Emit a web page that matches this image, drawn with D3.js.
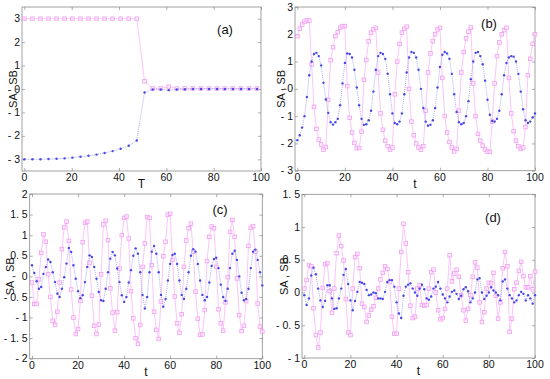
<!DOCTYPE html>
<html><head><meta charset="utf-8">
<script src="https://cdn.jsdelivr.net/npm/d3@7"></script>
<style>body{margin:0;background:#fff}svg{display:block}text{font-family:"Liberation Sans",Arial,sans-serif}</style>
</head><body><svg id="c" width="550" height="379"></svg>
<script>
// ---------- data ----------
const xTicks = [0, 20, 40, 60, 80, 100];
const xTickLabels = ["0", "20", "40", "60", "80", "100"];

const tA = [0,3.4,6.8,10.2,13.6,17,20.3,23.7,27.1,30.5,33.9,37.3,40.7,44.1,47.5,50.8,54.2,57.6,61,64.4,67.8,71.2,74.6,78,81.4,84.7,88.1,91.5,94.9,98.3];
const sbA = [3,3,3,3,3,3,3,3,3,3,3,3,3,3,3,0.33,0.02,0.02,0.1,0.02,0.02,0.02,0.02,0.02,0.02,0.02,0.02,0.02,0.02,0.02];
const saA = [-3,-3,-3,-2.99,-2.98,-2.96,-2.93,-2.89,-2.85,-2.8,-2.73,-2.65,-2.55,-2.42,-2.2,-0.15,-0.02,-0.02,-0.05,-0.02,-0.01,0,0,0,0,0,0,0,0,0];

const tB = d3.range(0, 101);
const sbB = [1.93,2.2,2.36,2.46,2.52,2.5,0.9,-0.66,-1.47,-1.86,-2.04,-2.23,-2.13,-0.4,1.05,1.53,1.93,2.08,2.24,2.3,2.3,0.1,-1.06,-1.6,-1.98,-2.17,-2.17,-1.57,0.33,1.06,1.74,2.06,2.18,2.24,0.6,-0.9,-1.5,-1.9,-2.1,-2.23,-2.15,-0.2,1.0,1.65,2.06,2.2,2.28,0.0,-1.2,-1.7,-2.0,-2.15,-2.23,-2.1,-0.8,0.6,1.3,1.75,2.0,2.18,2.24,0.4,-1.0,-1.6,-1.95,-2.15,-2.29,-2.2,-0.8,0.6,1.35,1.85,2.1,2.25,0.2,-1.0,-1.65,-1.9,-2.08,-2.22,-2.3,-2.31,-1.2,0.2,1.2,1.7,2.0,2.15,2.24,0.4,-0.9,-1.55,-1.9,-2.1,-2.2,-2.15,-1.4,0.5,1.1,1.65,2.0];
const saB = [-1.88,-1.7,-1.42,-1.0,-0.3,0.5,1.0,1.28,1.32,1.2,0.86,0.22,-0.39,-0.88,-1.22,-1.31,-1.22,-1.1,-0.6,0.2,0.95,1.3,1.28,1.15,0.7,0.05,-0.6,-1.1,-1.32,-1.3,-1.15,-0.8,-0.1,0.7,1.2,1.32,1.28,1.1,0.55,-0.2,-0.9,-1.25,-1.3,-1.2,-0.9,-0.2,0.6,1.15,1.35,1.32,1.15,0.7,0.0,-0.7,-1.2,-1.35,-1.32,-1.15,-0.7,0.05,0.8,1.25,1.35,1.3,1.1,0.55,-0.2,-0.85,-1.22,-1.3,-1.25,-1.0,-0.45,0.35,1.0,1.32,1.35,1.2,0.9,0.3,-0.4,-0.95,-1.18,-1.2,-1.1,-0.8,-0.2,0.5,0.95,1.15,1.2,1.18,1.0,0.55,-0.1,-0.75,-1.15,-1.25,-1.2,-1.05,-0.9];

const tC = d3.range(0, 101);
const sbC = [-0.15,-0.67,-0.67,-0.07,0.57,1.02,0.84,0.05,-0.5,-1.08,-1.18,-0.86,-0.15,0.66,1.19,1.33,0.86,-0.32,-1.0,-1.4,-1.28,-0.59,0.83,1.3,1.33,0.33,-0.47,-1.2,-1.4,-1.17,0.05,1.26,1.35,0.88,-0.29,-0.88,-1.32,-0.87,0.19,1.0,1.42,1.45,0.92,-0.36,-1.02,-1.5,-1.64,-1.18,0.23,0.8,1.44,1.42,0.27,-0.86,-1.3,-1.52,-0.61,0.49,0.84,1.5,1.52,0.4,-0.49,-1.14,-1.37,-0.92,0.23,0.87,1.17,1.28,0.6,-0.37,-1.03,-1.42,-1.41,-0.82,0.37,0.96,1.21,1.17,0.23,-0.8,-1.14,-1.32,-0.63,-0.02,1.08,1.37,0.96,-0.05,-0.94,-1.33,-1.2,-0.6,0.74,1.18,1.22,0.6,-0.66,-1.22,-1.34];
const saC = [0.27,0.08,-0.12,-0.3,-0.26,0.06,0.23,0.41,0.35,0.1,-0.14,-0.42,-0.5,-0.3,-0.02,0.31,0.69,0.59,0.27,-0.06,-0.36,-0.53,-0.46,-0.14,0.23,0.51,0.47,0.23,-0.06,-0.38,-0.58,-0.6,-0.3,0.1,0.43,0.59,0.51,0.19,-0.14,-0.46,-0.62,-0.5,-0.15,0.15,0.5,0.68,0.55,0.1,-0.45,-0.78,-0.5,0.1,0.6,0.74,0.55,0.1,-0.45,-0.74,-0.55,-0.1,0.3,0.52,0.55,0.3,-0.1,-0.45,-0.55,-0.3,0.1,0.5,0.66,0.6,0.3,-0.1,-0.45,-0.58,-0.5,-0.15,0.25,0.42,0.45,0.2,-0.2,-0.5,-0.6,-0.3,0.2,0.55,0.62,0.4,0.0,-0.4,-0.58,-0.55,-0.3,0.2,0.6,0.65,0.4,0.1,-0.22];

const tD = d3.range(0, 101);
const sbD = [0.06,0.19,0.42,0.4,-0.24,-0.65,-0.84,-0.61,0.07,0.43,0.45,0.02,-0.31,0.06,0.6,0.87,0.71,0.49,-0.1,-0.61,-0.65,0.06,0.54,0.59,0.37,-0.17,-0.22,-0.45,-0.35,-0.26,-0.21,-0.08,0.06,0.2,0.3,0.4,0.36,0.16,-0.37,-0.63,-0.63,0.06,0.62,1.05,0.75,0.31,-0.2,-0.39,-0.37,0.06,0.11,-0.19,-0.2,-0.19,0.06,0.31,0.35,0.0,-0.27,-0.41,-0.39,-0.25,0.06,0.57,0.17,0.29,0.35,0.24,-0.04,-0.27,-0.43,-0.25,-0.04,0.24,0.46,0.38,-0.15,-0.45,-0.3,0.06,0.15,0.14,0.3,-0.05,-0.4,-0.15,0.37,0.62,0.4,-0.6,-0.4,0.05,0.15,0.33,0.47,0.25,0.08,0.08,0.25,0.05,0.32];
const saD = [-0.04,-0.19,-0.09,0.26,0.38,0.28,0.06,-0.12,-0.22,-0.13,0.11,0.11,-0.09,-0.25,-0.24,-0.09,0.06,0.27,0.36,0.13,-0.12,-0.27,-0.13,0.01,0.16,0.15,0.13,0.04,-0.04,-0.03,0.0,-0.01,-0.09,-0.09,-0.1,0.01,0.16,0.19,0.19,0.09,-0.15,-0.32,-0.39,-0.05,0.09,0.12,0.14,0.06,0.0,-0.05,0.06,0.12,0.05,-0.09,-0.11,-0.06,0.06,0.09,0.16,0.06,-0.03,-0.09,-0.15,-0.06,0.01,0.03,-0.02,-0.1,-0.05,0.05,0.08,0.02,-0.15,-0.09,0.0,0.2,0.22,0.0,-0.1,-0.05,0.0,0.08,0.03,0.0,-0.04,-0.12,0.17,0.2,0.06,-0.04,-0.09,-0.15,-0.12,-0.04,0.01,-0.02,-0.12,-0.04,-0.09,-0.17,-0.04];

const yTicksAB = [3, 2, 1, 0, -1, -2, -3];
const yLabelsAB = ["3", "2", "1", "- 0", "- 1", "- 2", "- 3"];
const yTicksC = [2, 1.5, 1, 0.5, 0, -0.5, -1, -1.5, -2];
const yLabelsC = ["2", "1. 5", "1", "0. 5", "0", "- 0. 5", "- 1", "- 1. 5", "- 2"];
const yTicksD = [1.5, 1, 0.5, 0, -0.5, -1];
const yLabelsD = ["1. 5", "1", "0. 5", "0", "- 0. 5", "- 1"];

// ---------- layout ----------
const panels = [
  {tag:"(a)", xl:"T", L:22, R:261, T:7, B:171, yd:[-3.5,3.5], yt:yTicksAB, yl:yLabelsAB, t:tA, sb:sbA, sa:saA, tagX:225, tagY:34, labX:13},
  {tag:"(b)", xl:"t", L:295, R:535, T:7, B:170.7, yd:[-3,3], yt:yTicksAB, yl:yLabelsAB, t:tB, sb:sbB, sa:saB, tagX:489, tagY:28, labX:281},
  {tag:"(c)", xl:"t", L:29.7, R:262.3, T:194, B:358.7, yd:[-2,2], yt:yTicksC, yl:yLabelsC, t:tC, sb:sbC, sa:saC, tagX:220, tagY:214, labX:10},
  {tag:"(d)", xl:"t", L:302, R:535, T:194.3, B:358, yd:[-1,1.5], yt:yTicksD, yl:yLabelsD, t:tD, sb:sbD, sa:saD, tagX:493, tagY:222, labX:284}
];

const svg = d3.select("#c");
svg.append("rect").attr("width",550).attr("height",379).attr("fill","#fff");

const frameCol = "#8a8a8a", pinkLine = "#f8bff8", pinkMark = "#f29ef2", blueLine = "#a3a3f5", blueMark = "#4848e6";

panels.forEach(p => {
  const x = d3.scaleLinear().domain([-1, 100]).range([p.L, p.R]);
  const y = d3.scaleLinear().domain(p.yd).range([p.B, p.T]);
  const g = svg.append("g");

  g.append("rect").attr("x",p.L).attr("y",p.T).attr("width",p.R-p.L).attr("height",p.B-p.T)
    .attr("fill","none").attr("stroke",frameCol).attr("stroke-width",0.8);

  const ax = (axis, tr) => g.append("g").attr("transform", tr).call(axis)
      .call(s => s.select(".domain").remove())
      .call(s => s.selectAll("line").attr("stroke", frameCol).attr("stroke-width",0.7));
  ax(d3.axisBottom(x).tickValues(xTicks).tickSize(-3).tickFormat(""), `translate(0,${p.B})`);
  ax(d3.axisTop(x).tickValues(xTicks).tickSize(-3).tickFormat(""), `translate(0,${p.T})`);
  ax(d3.axisLeft(y).tickValues(p.yt).tickSize(-3).tickFormat(""), `translate(${p.L},0)`);
  ax(d3.axisRight(y).tickValues(p.yt).tickSize(-3).tickFormat(""), `translate(${p.R},0)`);

  g.selectAll(".xl").data(xTicks).join("text")
    .attr("x", d => x(d)).attr("y", p.B + 10).attr("text-anchor","middle")
    .attr("font-size",10.5).attr("fill","#111").text((d,i) => xTickLabels[i]);
  g.selectAll(".yl").data(p.yt).join("text")
    .attr("x", p.L - 2).attr("y", d => y(d) + 3.6).attr("text-anchor","end")
    .attr("font-size",10.5).attr("fill","#111").text((d,i) => p.yl[i]);

  g.append("text").attr("x",(p.L+p.R)/2).attr("y",p.B+17).attr("text-anchor","middle")
    .attr("font-size",12).attr("fill","#111").text(p.xl);
  g.append("text").attr("transform",`translate(${p.labX + 4},${(p.T+p.B)/2}) rotate(-90)`)
    .attr("text-anchor","middle").attr("font-size",11).attr("fill","#111").text("SA , SB");

  g.append("text").attr("x",p.tagX).attr("y",p.tagY).attr("text-anchor","middle")
    .attr("font-size",13).attr("fill","#111").text(p.tag);

  const clip = "clip" + p.tag.replace(/\W/g,"");
  svg.append("clipPath").attr("id",clip).append("rect")
    .attr("x",p.L).attr("y",p.T-3).attr("width",p.R-p.L+3).attr("height",p.B-p.T+6);
  const dg = g.append("g").attr("clip-path",`url(#${clip})`);

  const line = d3.line().x(d => x(d[0])).y(d => y(d[1]));
  const pink = p.t.map((t,i) => [t, p.sb[i]]);
  const blue = p.t.map((t,i) => [t, p.sa[i]]);

  dg.append("path").datum(pink).attr("d", line).attr("fill","none")
    .attr("stroke", pinkLine).attr("stroke-width", 0.9);
  dg.selectAll(".pm").data(pink).join("rect")
    .attr("x", d => x(d[0]) - 1.8).attr("y", d => y(d[1]) - 1.8).attr("width",3.6).attr("height",3.6)
    .attr("fill","#fde8fd").attr("fill-opacity",0.6).attr("stroke", pinkMark).attr("stroke-width",0.8);

  dg.append("path").datum(blue).attr("d", line).attr("fill","none")
    .attr("stroke", blueLine).attr("stroke-width", 0.9).attr("stroke-dasharray","1,1");
  dg.selectAll(".bm").data(blue).join("circle")
    .attr("cx", d => x(d[0])).attr("cy", d => y(d[1])).attr("r",1.2)
    .attr("fill", blueMark);
});
</script></body></html>
